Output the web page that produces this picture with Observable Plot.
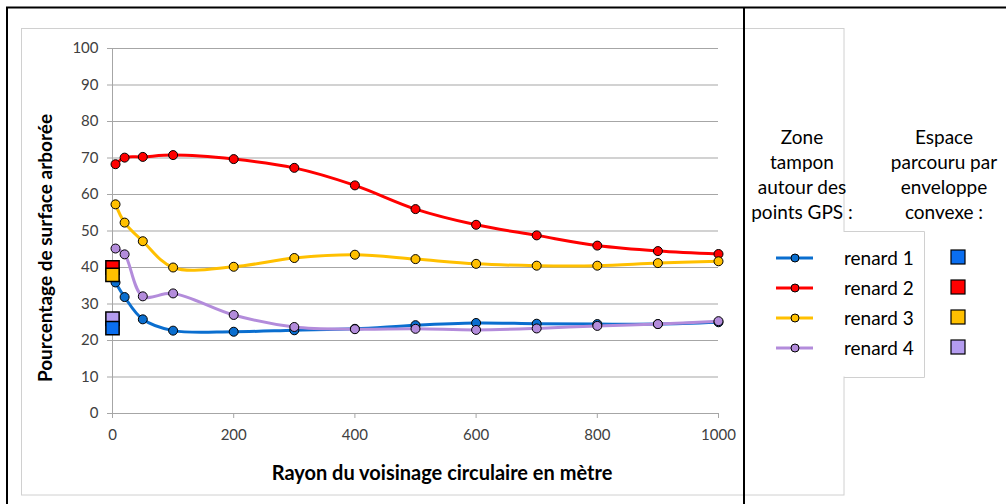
<!DOCTYPE html>
<html><head><meta charset="utf-8">
<script src="https://cdn.jsdelivr.net/npm/d3@7"></script>
<script src="https://cdn.jsdelivr.net/npm/@observablehq/plot@0.6"></script>
<style>body{margin:0;background:#fff}svg{display:block}</style>
</head><body><div id="chart"></div>
<script>
// ---- data ----
const radius  = [5, 20, 50, 100, 200, 300, 400, 500, 600, 700, 800, 900, 1000];
const renard1 = [35.9, 31.9, 25.8, 22.7, 22.4, 22.8, 23.2, 24.2, 24.8, 24.6, 24.5, 24.5, 25.0];
const renard2 = [68.3, 70.1, 70.3, 70.8, 69.7, 67.3, 62.5, 56.0, 51.7, 48.8, 46.0, 44.5, 43.7];
const renard3 = [57.3, 52.3, 47.2, 40.0, 40.2, 42.6, 43.5, 42.3, 41.0, 40.5, 40.5, 41.2, 41.7];
const renard4 = [45.2, 43.6, 32.1, 32.9, 27.0, 23.7, 23.1, 23.2, 22.9, 23.3, 24.0, 24.5, 25.3];
const seriesNames  = ["renard 1", "renard 2", "renard 3", "renard 4"];
const seriesValues = [renard1, renard2, renard3, renard4];
const lineColors   = ["#0A6ECF", "#FF0000", "#FFC000", "#B38CDB"];
const convexX      = [0, 0, 0, 0];
const convexValues = [23.4, 40.0, 38.0, 26.0];
const squareColors = ["#0A6EEF", "#FF0000", "#FFC000", "#B49CEF"];
const squareOrder  = [3, 1, 2, 0];
const yTicks = [0, 10, 20, 30, 40, 50, 60, 70, 80, 90, 100];
const xTicks = [0, 200, 400, 600, 800, 1000];
const xTitle = "Rayon du voisinage circulaire en mètre";
const yTitle = "Pourcentage de surface arborée";
const legendTitleLeft  = ["Zone", "tampon", "autour des", "points GPS :"];
const legendTitleRight = ["Espace", "parcouru par", "enveloppe", "convexe :"];

// ---- tables ----
const points = seriesNames.flatMap((s, i) => radius.map((r, j) => ({serie: s, r, v: seriesValues[i][j], color: lineColors[i]})));
const squares = squareOrder.map(i => ({serie: seriesNames[i], r: convexX[i], v: convexValues[i], color: squareColors[i]}));

const font = "Lato, 'Open Sans', sans-serif";
const chart = Plot.plot({
  width: 1006, height: 504,
  marginLeft: 112, marginRight: 288, marginTop: 48, marginBottom: 91,
  style: {fontFamily: font, background: "transparent", overflow: "visible"},
  x: {domain: [0, 1000]},
  y: {domain: [0, 100]},
  marks: [
    Plot.ruleY(yTicks.filter(d => d > 0), {stroke: "#a6a6a6", strokeWidth: 1.2}),
    Plot.ruleX([0], {stroke: "#a6a6a6"}),
    Plot.ruleY([0], {stroke: "#a6a6a6"}),
    Plot.axisY({ticks: yTicks, tickSize: 5, tickPadding: 9, stroke: "#a6a6a6", fill: "#404040", fontSize: 15, label: null, tickFormat: d => String(d)}),
    Plot.axisX({ticks: xTicks, tickSize: 5, tickPadding: 11, stroke: "#a6a6a6", fill: "#404040", fontSize: 15, label: null, tickFormat: d => String(d)}),
    Plot.line(points, {x: "r", y: "v", z: "serie", stroke: "color", strokeWidth: 3, curve: "catmull-rom"}),
    Plot.dot(points, {x: "r", y: "v", fill: "color", stroke: "black", strokeWidth: 1, r: 4.5}),
    Plot.dot(squares, {x: "r", y: "v", symbol: "square", fill: "color", stroke: "black", strokeWidth: 1.5, r: 7.5})
  ]
});
document.getElementById("chart").appendChild(chart);

const svg = d3.select(chart);
svg.attr("font-family", font);
const under = svg.insert("g", ":first-child");
under.append("rect").attr("x", 0).attr("y", 0).attr("width", 1006).attr("height", 504).attr("fill", "#fff");
under.append("rect").attr("x", 21.5).attr("y", 28.5).attr("width", 822.5).attr("height", 466.5)
  .attr("fill", "none").attr("stroke", "#d0d0d0");

// titles
svg.append("text").attr("x", 442).attr("y", 480).attr("text-anchor", "middle")
  .attr("font-weight", "bold").attr("font-size", 20).attr("fill", "#000").text(xTitle);
svg.append("text").attr("transform", "translate(52,248) rotate(-90)").attr("text-anchor", "middle")
  .attr("font-weight", "bold").attr("font-size", 19).attr("fill", "#000").text(yTitle);

// legend box (covers chart border between its top and bottom)
svg.append("rect").attr("x", 746).attr("y", 232).attr("width", 178.5).attr("height", 144.5).attr("fill", "#fff");
svg.append("path").attr("d", "M844,231.5H924.5V377.5H844").attr("fill", "none").attr("stroke", "#d0d0d0");

// legend headers
legendTitleLeft.forEach((t, i) => svg.append("text").attr("x", 802).attr("y", 144 + i * 25)
  .attr("text-anchor", "middle").attr("font-size", 19).attr("fill", "#000").text(t));
legendTitleRight.forEach((t, i) => svg.append("text").attr("x", 944).attr("y", 144 + i * 25)
  .attr("text-anchor", "middle").attr("font-size", 19).attr("fill", "#000").text(t));

// legend rows
seriesNames.forEach((s, i) => {
  const y = 258 + i * 30;
  svg.append("line").attr("x1", 776).attr("x2", 813).attr("y1", y).attr("y2", y)
    .attr("stroke", lineColors[i]).attr("stroke-width", 3);
  svg.append("circle").attr("cx", 795).attr("cy", y).attr("r", 4).attr("fill", lineColors[i]).attr("stroke", "#000");
  svg.append("text").attr("x", 844).attr("y", y + 6.5).attr("text-anchor", "start")
    .attr("font-size", 19).attr("fill", "#000").text(s);
  svg.append("rect").attr("x", 951).attr("y", y - 8).attr("width", 14).attr("height", 14)
    .attr("fill", squareColors[i]).attr("stroke", "#000").attr("stroke-width", 1.2);
});

// outer frames
svg.append("rect").attr("x", 7).attr("y", 7.5).attr("width", 1010).attr("height", 510)
  .attr("fill", "none").attr("stroke", "#000").attr("stroke-width", 2);
svg.append("line").attr("x1", 744).attr("x2", 744).attr("y1", 7).attr("y2", 504)
  .attr("stroke", "#000").attr("stroke-width", 2);
</script></body></html>
